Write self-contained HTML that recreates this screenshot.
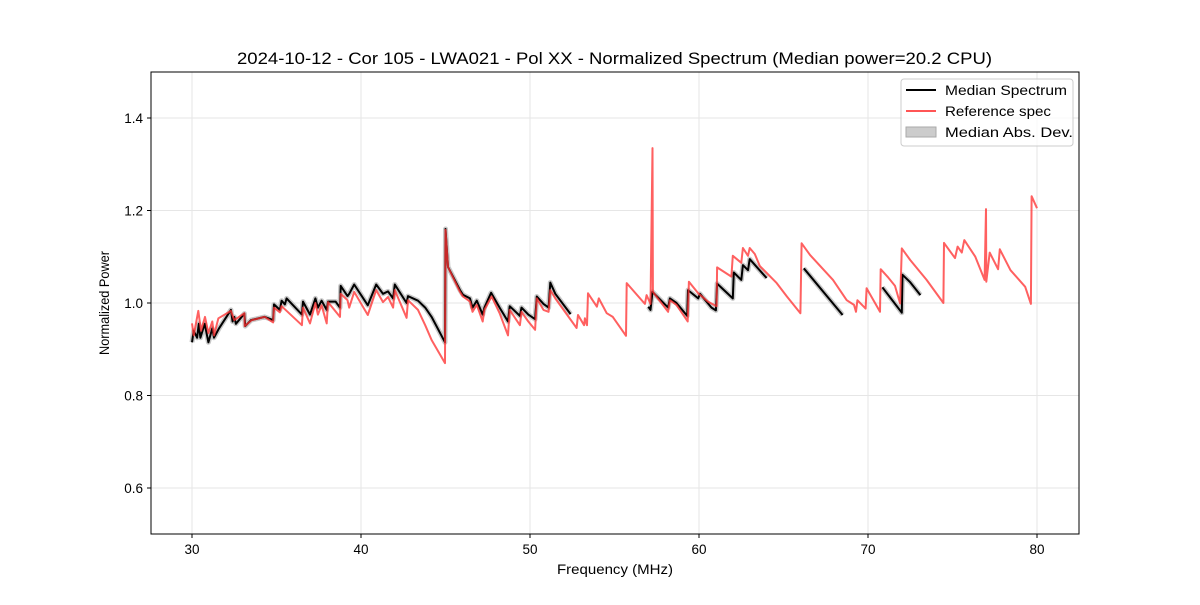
<!DOCTYPE html>
<html><head><meta charset="utf-8"><style>
body{margin:0;background:#fff;}
svg text{font-family:"Liberation Sans","DejaVu Sans",sans-serif;}
</style></head><body>
<svg id="chart" width="1200" height="600" xmlns="http://www.w3.org/2000/svg">
<rect width="1200" height="600" fill="#fff"/>
<text x="237" y="64" textLength="755" lengthAdjust="spacingAndGlyphs" font-size="17">2024-10-12 - Cor 105 - LWA021 - Pol XX - Normalized Spectrum (Median power=20.2 CPU)</text>
<g id="grid"></g><g id="series"></g>
<rect x="151" y="72" width="928" height="462" fill="none" stroke="#000" stroke-width="1"/>
<g id="ticks"></g>
<text x="557" y="574" textLength="116" lengthAdjust="spacingAndGlyphs" font-size="13.5">Frequency (MHz)</text>
<text transform="translate(109,355) rotate(-90)" textLength="104" lengthAdjust="spacingAndGlyphs" font-size="13.5">Normalized Power</text>
<g>
<rect x="901" y="79" width="172" height="67" rx="3" fill="#fff" fill-opacity="0.8" stroke="#ccc"/>
<line x1="906" y1="90" x2="936" y2="90" stroke="#000" stroke-width="2"/>
<text x="945" y="95" textLength="122" lengthAdjust="spacingAndGlyphs" font-size="13.5">Median Spectrum</text>
<line x1="906" y1="111" x2="936" y2="111" stroke="#ff5555" stroke-width="2"/>
<text x="945" y="116" textLength="106" lengthAdjust="spacingAndGlyphs" font-size="13.5">Reference spec</text>
<rect x="906" y="127" width="30" height="10" fill="#ccc" stroke="#aaa"/>
<text x="945" y="137" textLength="128" lengthAdjust="spacingAndGlyphs" font-size="13.5">Median Abs. Dev.</text>
</g>
</svg>
<script>
const xTicks=[30,40,50,60,70,80];
const yTicks=[0.6,0.8,1.0,1.2,1.4];
const refFreq=[30.0,30.1,30.37,30.53,30.77,30.97,31.2,31.3,31.56,32.3,32.5,33.1,33.12,33.53,34.3,34.8,34.85,35.2,35.3,36.5,36.57,36.98,37.3,37.45,37.67,37.97,38.05,38.76,38.8,39.2,39.3,39.6,40.4,40.9,41.3,41.6,41.9,42.0,42.7,42.78,43.37,43.8,44.18,44.97,45.0,45.15,45.86,46.03,46.45,46.6,46.85,47.2,47.3,47.73,48.2,48.7,48.8,49.4,49.5,49.9,50.3,50.4,50.8,51.1,51.2,51.5,52.76,52.84,53.2,53.25,53.37,53.43,53.96,54.07,54.54,54.9,55.68,55.72,56.8,56.9,57.13,57.25,57.27,58.17,58.28,58.67,59.33,59.4,59.95,60.53,61.04,61.07,61.92,62.0,62.5,62.6,62.9,63.0,63.3,63.6,64.6,65.2,66.0,66.07,66.57,67.93,68.74,69.17,69.29,69.37,69.86,69.92,70.71,70.75,71.2,71.6,71.9,72.0,72.5,73.47,74.46,74.5,75.15,75.3,75.55,75.7,76.35,76.9,76.98,77.0,77.2,77.7,77.8,78.43,79.3,79.64,79.68,80.0];
const refPow=[0.956,0.93,0.983,0.94,0.97,0.935,0.96,0.93,0.967,0.983,0.963,0.978,0.95,0.963,0.97,0.958,0.99,0.98,0.993,0.952,0.99,0.956,1.0,0.975,0.995,0.956,1.002,0.97,1.02,1.006,0.99,1.024,0.974,1.028,1.002,1.013,0.99,1.028,0.968,1.006,0.985,0.952,0.92,0.87,1.158,1.078,1.024,1.014,1.003,0.981,0.996,0.96,0.985,1.014,0.978,0.93,0.985,0.952,0.981,0.96,0.942,1.01,0.985,0.981,1.028,1.01,0.946,0.974,0.952,0.967,0.952,1.021,0.992,1.01,0.978,0.97,0.929,1.043,0.998,1.017,0.998,1.335,1.024,0.981,1.006,0.996,0.96,1.046,1.021,1.003,0.993,1.077,1.057,1.102,1.087,1.119,1.102,1.119,1.106,1.08,1.043,1.014,0.978,1.129,1.104,1.05,1.006,0.996,0.981,1.006,0.988,1.032,0.981,1.073,1.055,1.037,0.999,1.118,1.093,1.05,1.0,1.13,1.097,1.122,1.109,1.136,1.1,1.05,1.203,1.046,1.109,1.073,1.116,1.071,1.035,0.998,1.231,1.205];
const medSeg1Freq=[30.0,30.1,30.3,30.4,30.5,30.75,30.97,31.2,31.3,31.6,32.3,32.4,32.5,32.6,33.1,33.15,33.5,34.3,34.8,34.85,35.2,35.3,35.5,35.6,36.5,36.57,36.98,37.3,37.45,37.67,37.97,38.05,38.5,38.76,38.8,39.2,39.3,39.6,40.4,40.9,41.3,41.6,41.9,42.0,42.7,42.78,43.37,43.8,44.18,44.97,45.0,45.15,45.86,46.03,46.45,46.6,46.85,47.2,47.3,47.7,48.2,48.7,48.8,49.4,49.5,49.9,50.3,50.4,50.8,51.1,51.2,51.5,52.4];
const medSeg1Pow=[0.915,0.94,0.925,0.955,0.925,0.955,0.915,0.945,0.925,0.945,0.985,0.96,0.97,0.955,0.977,0.95,0.963,0.97,0.963,0.997,0.985,1.005,0.997,1.01,0.975,1.003,0.975,1.01,0.99,1.005,0.985,1.003,1.003,0.99,1.037,1.015,1.02,1.04,0.995,1.04,1.02,1.025,1.01,1.04,1.0,1.015,1.005,0.99,0.97,0.915,1.16,1.078,1.028,1.018,1.01,0.99,1.005,0.975,0.99,1.022,0.99,0.96,0.993,0.972,0.99,0.975,0.965,1.014,0.998,0.99,1.044,1.02,0.976];
const medSeg2Freq=[57.0,57.13,57.25,58.17,58.28,58.67,59.3,59.35,59.95,60.06,60.74,61.0,61.07,62.0,62.06,62.5,62.6,62.9,63.0,64.0];
const medSeg2Pow=[0.992,0.985,1.024,0.99,1.01,1.0,0.972,1.028,1.01,1.02,0.99,0.984,1.042,1.01,1.066,1.05,1.082,1.071,1.095,1.054];
const medSeg3Freq=[66.2,68.5];
const medSeg3Pow=[1.075,0.974];
const medSeg4Freq=[70.85,72.0,72.04,72.5,73.1];
const medSeg4Pow=[1.034,0.979,1.061,1.045,1.017];

const X=f=>192+(f-30)*16.9;
const Y=v=>303-(v-1.0)*462.5;
const NS="http://www.w3.org/2000/svg";
const grid=document.getElementById('grid'),ticks=document.getElementById('ticks'),ser=document.getElementById('series');
function mk(tag,attrs,parent){const e=document.createElementNS(NS,tag);for(const k in attrs)e.setAttribute(k,attrs[k]);parent.appendChild(e);return e;}
xTicks.forEach(t=>{
  const gl=mk('line',{x1:X(t),x2:X(t),y1:72,y2:534,stroke:'#e6e6e6'},grid);
  
  
  mk('line',{x1:X(t),x2:X(t),y1:534,y2:538,stroke:'#000'},ticks);
  const tx=mk('text',{x:X(t),y:554,'text-anchor':'middle','font-size':'13.5'},ticks);
  tx.textContent=t;
  
  
});
yTicks.forEach(t=>{
  const gl=mk('line',{x1:151,x2:1079,y1:Y(t),y2:Y(t),stroke:'#e6e6e6'},grid);
  
  
  mk('line',{x1:147,x2:151,y1:Y(t),y2:Y(t),stroke:'#000'},ticks);
  const tx=mk('text',{x:143,y:Y(t)+5,'text-anchor':'end','font-size':'13.5'},ticks);
  tx.textContent=t.toFixed(1);
  
  
});
function pts(fs,vs){return fs.map((f,i)=>X(f).toFixed(1)+','+Y(vs[i]).toFixed(1)).join(' ');}
const segs=[[medSeg1Freq,medSeg1Pow],[medSeg2Freq,medSeg2Pow],[medSeg3Freq,medSeg3Pow],[medSeg4Freq,medSeg4Pow]];
segs.forEach(s=>{
  const m=mk('polyline',{points:pts(s[0],s[1]),fill:'none',stroke:'#c8c8c8','stroke-width':5,'stroke-linejoin':'round'},ser);
  
  
});
segs.forEach(s=>{
  const l=mk('polyline',{points:pts(s[0],s[1]),fill:'none',stroke:'#000','stroke-width':2,'stroke-linejoin':'round'},ser);
  
  
});
const r=mk('polyline',{points:pts(refFreq,refPow),fill:'none',stroke:'#ff3333','stroke-opacity':0.78,'stroke-width':2,'stroke-linejoin':'round'},ser);


</script>
</body></html>
